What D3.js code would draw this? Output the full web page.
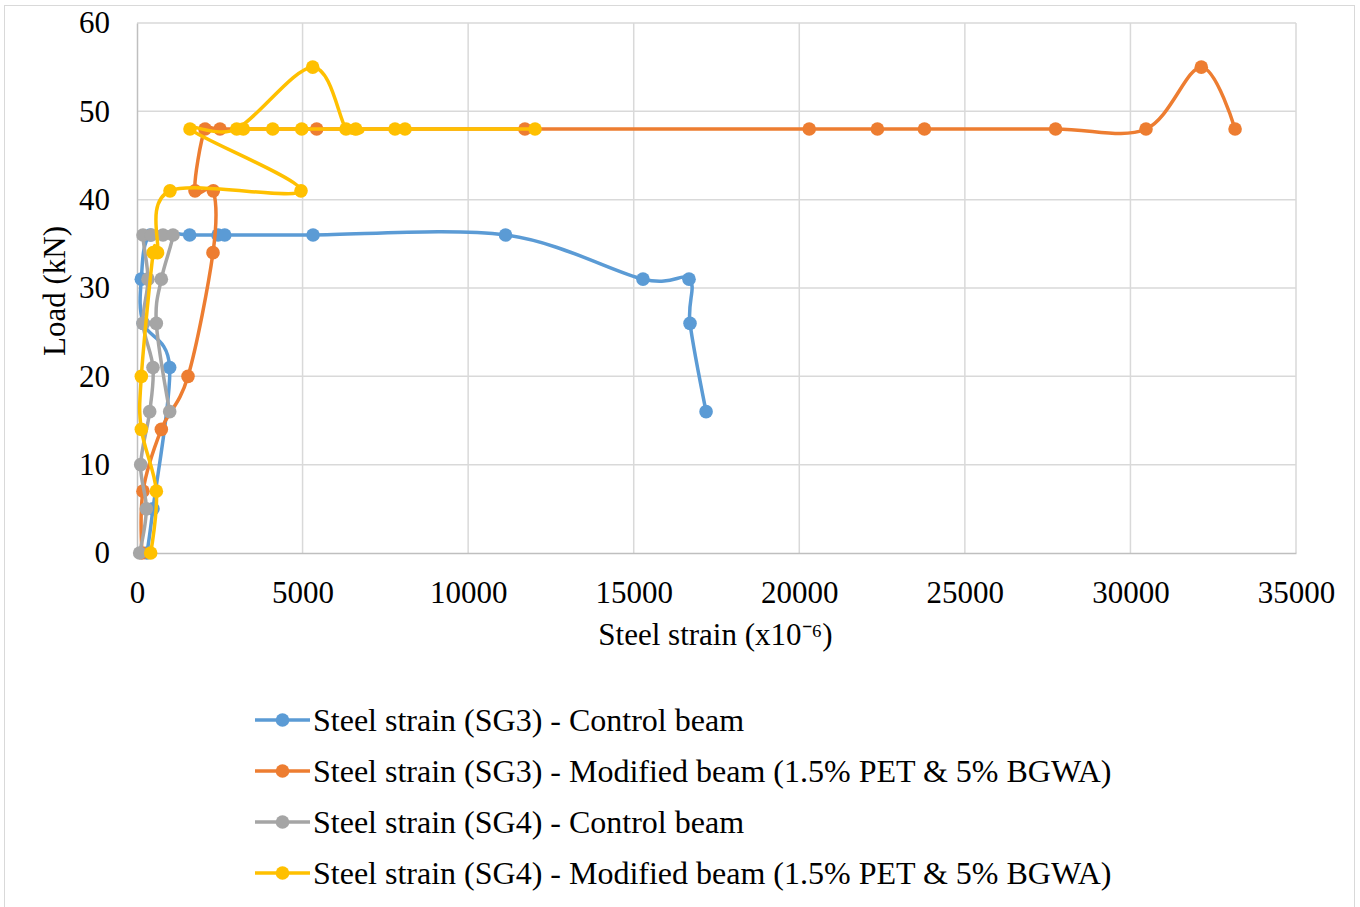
<!DOCTYPE html>
<html>
<head>
<meta charset="utf-8">
<script src="https://cdn.jsdelivr.net/npm/d3@7"></script>
<style>
  body { margin: 0; background: #fff; }
  text { font-family: "Liberation Serif", "Times New Roman", serif; fill: #000; }
</style>
</head>
<body>
<div id="chart"></div>
<script>
// load steps (kN) and steel strain readings (x10^-6), in plotting order
const sg3ControlLoad   = [0, 5, 21, 26, 31, 36, 36, 36, 36, 36, 36, 31, 31, 26, 16]
const sg3ControlStrain = [300, 483, 987, 190, 131, 400, 1590, 2446, 2650, 5316, 11130, 15280, 16670, 16700, 17185]

const sg3ModLoad   = [0, 7, 14, 20, 34, 41, 41, 48, 48, 48, 48, 48, 48, 48, 48, 48, 55, 48]
const sg3ModStrain = [150, 181, 735, 1540, 2295, 2305, 1752, 2054, 2507, 5426, 11715, 20300, 22360, 23780, 27740, 30470, 32140, 33160]

const sg4ControlLoad   = [0, 5, 10, 16, 21, 26, 31, 36, 36, 36, 36, 31, 26, 16]
const sg4ControlStrain = [80, 282, 111, 383, 483, 181, 332, 181, 432, 785, 1087, 735, 584, 987]

const sg4ModLoad   = [0, 7, 14, 20, 34, 34, 41, 41, 48, 48, 55, 48, 48, 48, 48, 48, 48, 48, 48]
const sg4ModStrain = [413, 584, 131, 131, 490, 620, 997, 4953, 1600, 3011, 5306, 6312, 6605, 3211, 4098, 4974, 7792, 8094, 12020]

const seriesNames = [
  "Steel strain (SG3) - Control beam",
  "Steel strain (SG3) - Modified beam (1.5% PET & 5% BGWA)",
  "Steel strain (SG4) - Control beam",
  "Steel strain (SG4) - Modified beam (1.5% PET & 5% BGWA)"
]
const seriesColors = ["#5B9BD5", "#ED7D31", "#A5A5A5", "#FFC000"]

const xTicks = [0, 5000, 10000, 15000, 20000, 25000, 30000, 35000]
const yTicks = [0, 10, 20, 30, 40, 50, 60]

const series = [
  [sg3ControlStrain, sg3ControlLoad],
  [sg3ModStrain, sg3ModLoad],
  [sg4ControlStrain, sg4ControlLoad],
  [sg4ModStrain, sg4ModLoad]
].map(([xs, ys], i) => ({
  name: seriesNames[i],
  color: seriesColors[i],
  points: xs.map((x, j) => ({ x: x, y: ys[j] }))
}))

const W = 1360, H = 907
const MARGIN = { top: 23, right: 64, bottom: 354, left: 137 }
const WIDTH = W - MARGIN.left - MARGIN.right
const HEIGHT = H - MARGIN.top - MARGIN.bottom

const svg = d3.select("#chart").append("svg")
  .attr("width", W)
  .attr("height", H)

// chart frame
svg.append("rect")
  .attr("x", 4.5).attr("y", 5.5)
  .attr("width", 1350).attr("height", 910)
  .attr("fill", "none")
  .attr("stroke", "#d9d9d9")

const g = svg.append("g")
  .attr("transform", `translate(${MARGIN.left}, ${MARGIN.top})`)

const x = d3.scaleLinear().domain([0, 35000]).range([0, WIDTH])
const y = d3.scaleLinear().domain([0, 60]).range([HEIGHT, 0])

// gridlines
g.append("g").selectAll("line.vgrid")
  .data(xTicks.slice(1))
  .join("line")
  .attr("x1", d => x(d)).attr("x2", d => x(d))
  .attr("y1", 0).attr("y2", HEIGHT)
  .attr("stroke", "#d9d9d9").attr("stroke-width", 1.5)

g.append("g").selectAll("line.hgrid")
  .data(yTicks.slice(1))
  .join("line")
  .attr("x1", 0).attr("x2", WIDTH)
  .attr("y1", d => y(d)).attr("y2", d => y(d))
  .attr("stroke", "#d9d9d9").attr("stroke-width", 1.5)

// axes
const xAxis = g.append("g")
  .attr("transform", `translate(0, ${HEIGHT})`)
  .call(d3.axisBottom(x).tickValues(xTicks).tickSize(0).tickPadding(28).tickFormat(d3.format("d")))
xAxis.select(".domain").attr("stroke", "#bfbfbf").attr("stroke-width", 1.5)

const yAxis = g.append("g")
  .call(d3.axisLeft(y).tickValues(yTicks).tickSize(0).tickPadding(27))
yAxis.select(".domain").attr("stroke", "#bfbfbf").attr("stroke-width", 1.5)

g.selectAll(".tick text")
  .attr("font-size", "31px")
  .attr("font-family", "Liberation Serif, Times New Roman, serif")
  .attr("fill", "#000")

// axis titles
g.append("text")
  .attr("x", WIDTH / 2 - 1)
  .attr("y", HEIGHT + 92)
  .attr("text-anchor", "middle")
  .attr("font-size", "31px")
  .text("Steel strain (x10⁻⁶)")

g.append("text")
  .attr("transform", `translate(-72, ${HEIGHT / 2 + 3}) rotate(-90)`)
  .attr("text-anchor", "middle")
  .attr("font-size", "31px")
  .text("Load (kN)")

// series
const line = d3.line()
  .x(d => x(d.x))
  .y(d => y(d.y))
  .curve(d3.curveCardinal.tension(0))

series.forEach(s => {
  const sg = g.append("g")
  sg.append("path")
    .datum(s.points)
    .attr("d", line)
    .attr("fill", "none")
    .attr("stroke", s.color)
    .attr("stroke-width", 3.5)
    .attr("stroke-linejoin", "round")
  sg.selectAll("circle")
    .data(s.points)
    .join("circle")
    .attr("cx", d => x(d.x))
    .attr("cy", d => y(d.y))
    .attr("r", 6.8)
    .attr("fill", s.color)
})

// legend
const legend = svg.append("g")
  .attr("transform", "translate(255, 720)")

const items = legend.selectAll("g")
  .data(series)
  .join("g")
  .attr("transform", (d, i) => `translate(0, ${i * 51})`)

items.append("line")
  .attr("x1", 0).attr("x2", 55)
  .attr("stroke", d => d.color)
  .attr("stroke-width", 3.5)
items.append("circle")
  .attr("cx", 27.5).attr("r", 6.8)
  .attr("fill", d => d.color)
items.append("text")
  .attr("x", 58)
  .attr("dy", "0.33em")
  .attr("font-size", "32px")
  .text(d => d.name)
</script>
</body>
</html>
